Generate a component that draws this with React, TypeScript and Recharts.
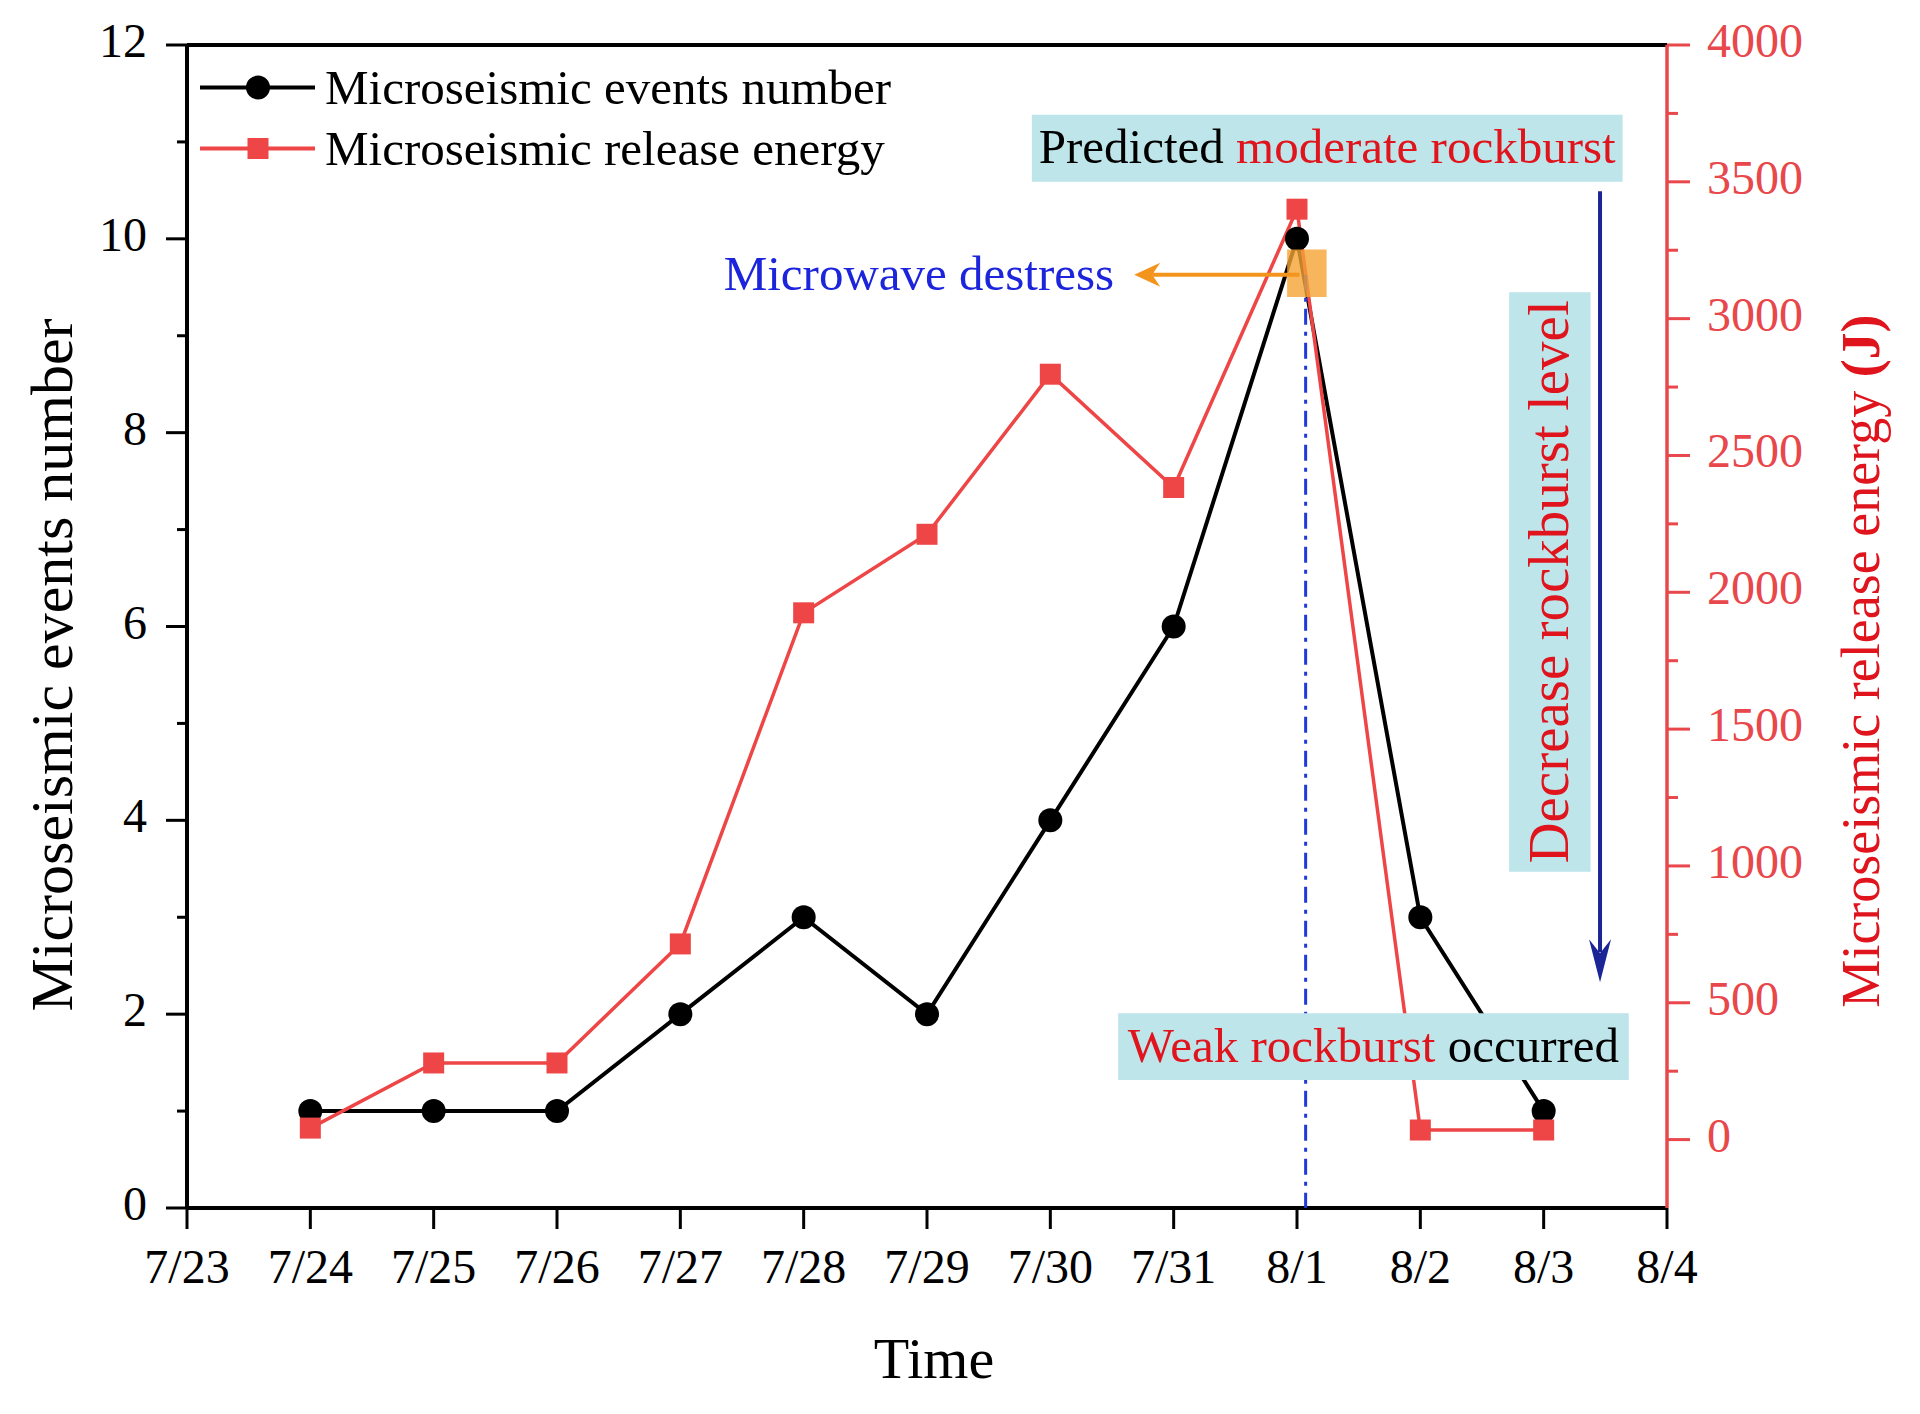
import React from 'react';
import { ComposedChart, Line, XAxis, YAxis, ReferenceArea, ReferenceLine, Legend } from 'recharts';

const FONT = '"Liberation Serif", "Times New Roman", Times, serif';

// ---- data ----
const dateLabels = ['7/23', '7/24', '7/25', '7/26', '7/27', '7/28', '7/29', '7/30', '7/31', '8/1', '8/2', '8/3', '8/4'];
const dayIndex = [1, 2, 3, 4, 5, 6, 7, 8, 9, 10, 11];
const eventsNumber = [1, 1, 1, 2, 3, 2, 4, 6, 10, 3, 1];
const releaseEnergy = [42, 280, 280, 715, 1925, 2212, 2797, 2383, 3400, 35, 35];
const seriesNames = ['Microseismic events number', 'Microseismic release energy'];
const xTicks = [0, 1, 2, 3, 4, 5, 6, 7, 8, 9, 10, 11, 12];
const leftTicks = [0, 1, 2, 3, 4, 5, 6, 7, 8, 9, 10, 11, 12];
const rightTicks = [0, 250, 500, 750, 1000, 1250, 1500, 1750, 2000, 2250, 2500, 2750, 3000, 3250, 3500, 3750, 4000];

const data = dayIndex.map((day, i) => ({ day, events: eventsNumber[i], energy: releaseEnergy[i] }));

// ---- styles ----
const BLACK = '#000000';
const RED = '#ee4646';
const AXIS_RED = '#e8474b';
const TEXT_RED = '#e0141c';
const CYAN = '#bde5ea';
const ORANGE = '#f3941c';
const BLUE_TEXT = '#1c24dc';
const NAVY = '#1b2596';

// ---- annotation anchors (data coordinates) ----
const predictedBox = { x1: 6.85, x2: 11.64, y1: 10.59, y2: 11.28 };
const weakBox = { x1: 7.55, x2: 11.69, y1: 1.32, y2: 2.01 };
const decreaseBox = { x1: 10.72, x2: 11.38, y1: 3.47, y2: 9.45 };
const destressMark = { x1: 8.92, x2: 9.24, y1: 9.4, y2: 9.89 };
const destressLineX = 9.07;
const destressArrow = { xFrom: 9.02, xTo: 7.68, y: 9.63 };
const decreaseArrow = { x: 11.457, yFrom: 10.49, yTo: 2.33 };

const LeftTick = (props: any) => {
  const { x, y, payload } = props;
  const axisX = x + 19 + 21;
  const major = payload.value % 2 === 0;
  return (
    <g>
      <line x1={axisX - (major ? 21 : 10)} x2={axisX} y1={y} y2={y} stroke={BLACK} strokeWidth={3} />
      {major && (
        <text x={x} y={y} dy="0.25em" textAnchor="end" fontSize={48} fontFamily={FONT} fill={BLACK}>
          {payload.value}
        </text>
      )}
    </g>
  );
};

const RightTick = (props: any) => {
  const { x, y, payload } = props;
  const axisX = x - 17 - 23;
  const major = payload.value % 500 === 0;
  return (
    <g>
      <line x1={axisX} x2={axisX + (major ? 23 : 11)} y1={y} y2={y} stroke={AXIS_RED} strokeWidth={3} />
      {major && (
        <text x={x} y={y} dy="0.25em" textAnchor="start" fontSize={48} fontFamily={FONT} fill={AXIS_RED}>
          {payload.value}
        </text>
      )}
    </g>
  );
};

const CircleDot = (p: any) => {
  if (p.cx == null || p.cy == null) return <g key={p.index} />;
  return <circle key={p.index} cx={p.cx} cy={p.cy} r={12} fill={BLACK} />;
};

const SquareDot = (p: any) => {
  if (p.cx == null || p.cy == null) return <g key={p.index} />;
  return <rect key={p.index} x={p.cx - 10.5} y={p.cy - 10.5} width={21} height={21} fill={RED} />;
};

const renderLegend = (props: any) => {
  const payload = props.payload || [];
  return (
    <div style={{ fontFamily: FONT }}>
      {payload.map((entry: any, i: number) => {
        const isEvents = entry.value === seriesNames[0];
        const color = isEvents ? BLACK : RED;
        return (
          <div key={i} style={{ display: 'flex', alignItems: 'center', height: 61 }}>
            <svg width={117} height={61} style={{ display: 'block' }}>
              <line x1={0} x2={115} y1={30.5} y2={30.5} stroke={color} strokeWidth={4} />
              {isEvents ? (
                <circle cx={58} cy={30.5} r={12} fill={BLACK} />
              ) : (
                <rect x={47.5} y={20} width={21} height={21} fill={RED} />
              )}
            </svg>
            <span style={{ fontSize: 49, color: BLACK, marginLeft: 8, lineHeight: '61px', whiteSpace: 'nowrap' }}>
              {entry.value}
            </span>
          </div>
        );
      })}
    </div>
  );
};

const OrangeArrow = (p: any) => {
  const { x1, y1, x2, y2 } = p;
  if (x1 == null) return <g />;
  const tipX = x2;
  const y = y2;
  return (
    <g>
      <line x1={x1} y1={y1} x2={tipX + 18} y2={y} stroke={ORANGE} strokeWidth={4} />
      <polygon points={`${tipX},${y} ${tipX + 26},${y - 12} ${tipX + 18},${y} ${tipX + 26},${y + 12}`} fill={ORANGE} />
      <text x={tipX - 20} y={y + 15} textAnchor="end" fontSize={49} fontFamily={FONT} fill={BLUE_TEXT}>
        Microwave destress
      </text>
    </g>
  );
};

const NavyArrow = (p: any) => {
  const { x1, y1, x2, y2 } = p;
  if (x1 == null) return <g />;
  return (
    <g>
      <line x1={x1} y1={y1} x2={x2} y2={y2 - 30} stroke={NAVY} strokeWidth={4} />
      <polygon points={`${x2},${y2} ${x2 - 11},${y2 - 43} ${x2},${y2 - 29} ${x2 + 11},${y2 - 43}`} fill={NAVY} />
    </g>
  );
};

const boxLabel = (parts: { t: string; c: string }[], fontSize: number, rotate = false) => (p: any) => {
  const vb = p.viewBox || {};
  const cx = vb.x + vb.width / 2;
  const cy = vb.y + vb.height / 2;
  if (rotate) {
    const bx = cx + 0.32 * fontSize;
    return (
      <text x={bx} y={cy} transform={`rotate(-90, ${bx}, ${cy})`} textAnchor="middle" fontSize={fontSize} fontFamily={FONT}>
        {parts.map((s, i) => (
          <tspan key={i} fill={s.c}>{s.t}</tspan>
        ))}
      </text>
    );
  }
  return (
    <text x={cx} y={cy} dy="0.31em" textAnchor="middle" fontSize={fontSize} fontFamily={FONT}>
      {parts.map((s, i) => (
        <tspan key={i} fill={s.c}>{s.t}</tspan>
      ))}
    </text>
  );
};

const leftTitle = () => (
  <text x={64} y={657} transform="rotate(-90, 64, 657)" textAnchor="middle" fontSize={60} fontFamily={FONT} fill={BLACK}>
    Microseismic events number
  </text>
);

const rightTitle = () => (
  <text x={1871} y={653} transform="rotate(-90, 1871, 653)" textAnchor="middle" fontSize={54} fontFamily={FONT} fill={TEXT_RED}>
    Microseismic release energy <tspan fontWeight="bold">(J)</tspan>
  </text>
);

const timeTitle = () => (
  <text x={926} y={1370} textAnchor="middle" fontSize={58} fontFamily={FONT} fill={BLACK}>
    Time
  </text>
);

const TOP = 1000;

export default function App() {
  return (
    <div style={{ width: 1904, height: 1398, background: '#fff' }}>
      <ComposedChart width={1904} height={1398} data={data} margin={{ top: 37, right: 45, bottom: 98, left: 59 }}>
        <XAxis
          dataKey="day"
          type="number"
          domain={[0, 12]}
          ticks={xTicks}
          interval={0}
          tickFormatter={(v: number) => dateLabels[v]}
          height={100}
          tickSize={21}
          tickMargin={20}
          axisLine={{ stroke: BLACK, strokeWidth: 4 }}
          tickLine={{ stroke: BLACK, strokeWidth: 3 }}
          tick={{ fontSize: 48, fill: BLACK, fontFamily: FONT }}
          label={{ content: timeTitle }}
        />
        <YAxis
          yAxisId="left"
          orientation="left"
          domain={[0, 12]}
          ticks={leftTicks}
          interval={0}
          width={120}
          tickSize={21}
          tickMargin={19}
          axisLine={{ stroke: BLACK, strokeWidth: 4 }}
          tickLine={false}
          tick={LeftTick}
          label={{ content: leftTitle }}
        />
        <YAxis
          yAxisId="right"
          orientation="right"
          domain={[-250, 4000]}
          ticks={rightTicks}
          interval={0}
          width={200}
          tickSize={23}
          tickMargin={17}
          axisLine={{ stroke: AXIS_RED, strokeWidth: 3.5 }}
          tickLine={false}
          tick={RightTick}
          label={{ content: rightTitle }}
        />
        <Legend
          layout="vertical"
          align="center"
          verticalAlign="middle"
          content={renderLegend}
          wrapperStyle={{ left: 192, top: 49, width: 'auto', margin: 0 }}
        />
        <ReferenceLine yAxisId="left" y={12} stroke={BLACK} strokeWidth={4} ifOverflow="visible" />
        <Line
          yAxisId="left"
          dataKey="events"
          name={seriesNames[0]}
          type="linear"
          stroke={BLACK}
          strokeWidth={4}
          dot={CircleDot}
          activeDot={false}
          isAnimationActive={false}
        />
        <Line
          yAxisId="right"
          dataKey="energy"
          name={seriesNames[1]}
          type="linear"
          stroke={RED}
          strokeWidth={3.5}
          dot={SquareDot}
          activeDot={false}
          isAnimationActive={false}
        />
        <ReferenceLine
          yAxisId="left"
          segment={[{ x: destressLineX, y: destressArrow.y }, { x: destressLineX, y: 0 }]}
          stroke="#1f3ad8"
          strokeWidth={3}
          strokeDasharray="16 7 4 7"
          ifOverflow="visible"
          zIndex={TOP - 10}
        />
        <ReferenceArea
          yAxisId="left"
          x1={destressMark.x1}
          x2={destressMark.x2}
          y1={destressMark.y1}
          y2={destressMark.y2}
          fill="#f5a233"
          fillOpacity={0.8}
          stroke="none"
          ifOverflow="visible"
          zIndex={TOP}
        />
        <ReferenceLine
          yAxisId="left"
          segment={[{ x: destressArrow.xFrom, y: destressArrow.y }, { x: destressArrow.xTo, y: destressArrow.y }]}
          shape={OrangeArrow}
          ifOverflow="visible"
          zIndex={TOP}
        />
        <ReferenceArea
          yAxisId="left"
          x1={predictedBox.x1}
          x2={predictedBox.x2}
          y1={predictedBox.y1}
          y2={predictedBox.y2}
          fill={CYAN}
          fillOpacity={1}
          stroke="none"
          ifOverflow="visible"
          zIndex={TOP}
          label={{ content: boxLabel([{ t: 'Predicted ', c: BLACK }, { t: 'moderate rockburst', c: TEXT_RED }], 49) }}
        />
        <ReferenceArea
          yAxisId="left"
          x1={weakBox.x1}
          x2={weakBox.x2}
          y1={weakBox.y1}
          y2={weakBox.y2}
          fill={CYAN}
          fillOpacity={1}
          stroke="none"
          ifOverflow="visible"
          zIndex={TOP}
          label={{ content: boxLabel([{ t: 'Weak rockburst', c: TEXT_RED }, { t: ' occurred', c: BLACK }], 49) }}
        />
        <ReferenceArea
          yAxisId="left"
          x1={decreaseBox.x1}
          x2={decreaseBox.x2}
          y1={decreaseBox.y1}
          y2={decreaseBox.y2}
          fill={CYAN}
          fillOpacity={1}
          stroke="none"
          ifOverflow="visible"
          zIndex={TOP}
          label={{ content: boxLabel([{ t: 'Decrease rockburst level', c: TEXT_RED }], 57, true) }}
        />
        <ReferenceLine
          yAxisId="left"
          segment={[{ x: decreaseArrow.x, y: decreaseArrow.yFrom }, { x: decreaseArrow.x, y: decreaseArrow.yTo }]}
          shape={NavyArrow}
          ifOverflow="visible"
          zIndex={TOP}
        />
      </ComposedChart>
    </div>
  );
}
